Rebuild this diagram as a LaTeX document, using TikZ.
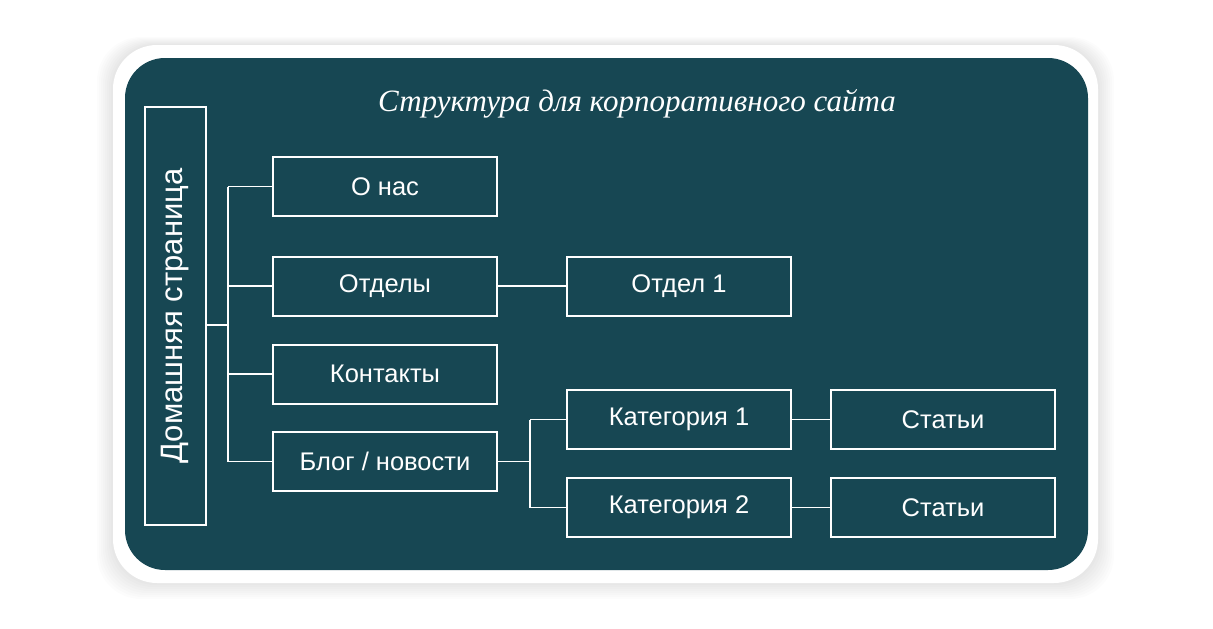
\documentclass[tikz,border=0pt]{standalone}
\usepackage{fontspec}
\setmainfont{Liberation Sans}
\newfontfamily\titlefont{Liberation Serif}
\begin{document}
\begin{tikzpicture}[x=1pt,y=-1pt,
  box/.style={draw=white,line width=2pt,text=white,font=\fontsize{25.5}{28}\selectfont,inner sep=0pt},
  ln/.style={draw=white,line width=1.6pt}]
\definecolor{teal}{HTML}{174753}
\useasboundingbox (0,0) rectangle (1213,629);
\fill[white] (0,0) rectangle (1213,629);
\foreach \i in {1,...,8}{
  \fill[black,opacity=0.012,rounded corners=44pt] (113-2*\i,45-\i) rectangle (1098+2*\i,583+2*\i);}
\fill[white,rounded corners=44pt] (113,45) rectangle (1098,583);
\fill[teal,rounded corners=40pt] (125,58) rectangle (1088,570);
\node[text=white,font=\titlefont\itshape\fontsize{31}{34}\selectfont] (title) at (637,104) {Структура для корпоративного сайта};
\node[box,minimum width=61pt,minimum height=418pt] (home) at (175.5,316) {};
\node[text=white,rotate=90,font=\fontsize{31}{34}\selectfont] (hometext) at (home.center) {Домашняя страница};
\node[box,minimum width=224pt,minimum height=59pt] (onas) at (385,186.5) {О нас};
\node[box,minimum width=224pt,minimum height=59pt] (otdely) at (385,286) {Отделы};
\node[box,minimum width=224pt,minimum height=59pt] (kont) at (385,374) {Контакты};
\node[box,minimum width=224pt,minimum height=59pt] (blog) at (385,461.5) {Блог / новости};
\node[box,minimum width=224pt,minimum height=59pt] (otd1) at (679,286) {Отдел 1};
\node[box,minimum width=224pt,minimum height=59pt] (kat1) at (679,419.5) {Категория 1};
\node[box,minimum width=224pt,minimum height=59pt] (kat2) at (679,507.5) {Категория 2};
\node[box,minimum width=224pt,minimum height=59pt] (st1) at (943,419.5) {Статьи};
\node[box,minimum width=224pt,minimum height=59pt] (st2) at (943,507.5) {Статьи};
\coordinate (bus) at (228,325);
\coordinate (bus2) at (530,461.5);
\draw[ln] (home.east |- bus) -- (bus);
\draw[ln] (bus |- onas.west) -- (bus |- blog.west);
\foreach \n in {onas,otdely,kont,blog}{\draw[ln] (bus |- \n.west) -- (\n.west);}
\draw[ln] (blog.east) -- (bus2);
\draw[ln] (bus2 |- kat1.west) -- (bus2 |- kat2.west);
\draw[ln] (bus2 |- kat1.west) -- (kat1.west);
\draw[ln] (bus2 |- kat2.west) -- (kat2.west);
\draw[ln] (otdely.east) -- (otd1.west);
\draw[ln] (kat1.east) -- (st1.west);
\draw[ln] (kat2.east) -- (st2.west);
\end{tikzpicture}
\end{document}
